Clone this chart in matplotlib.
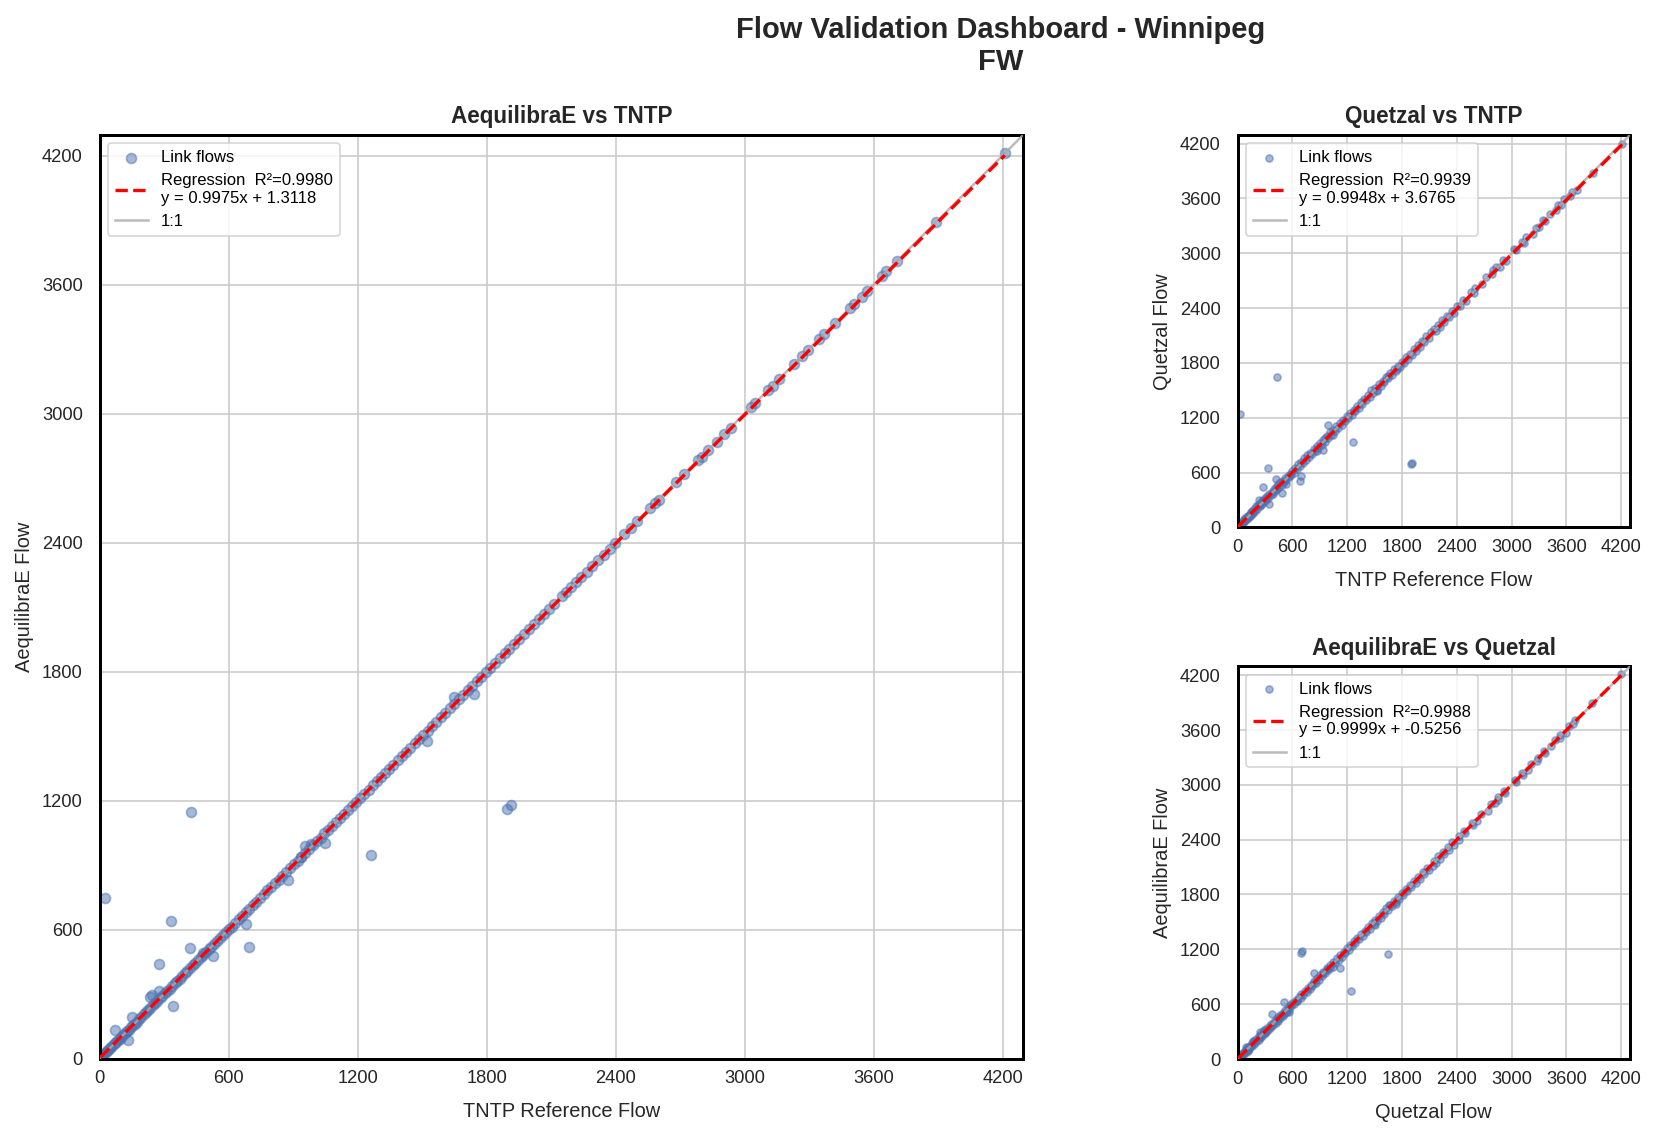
import matplotlib
matplotlib.use("Agg")
import matplotlib.pyplot as plt
from matplotlib.ticker import MultipleLocator
import numpy as np

plt.rcParams['font.family'] = ['Liberation Sans', 'DejaVu Sans']

# link flows (same links in all three panels)
tntp = [5, 12, 18, 25, 33, 40, 48, 55, 62, 70,
        78, 85, 93, 100, 110, 118, 127, 135, 146, 155,
        163, 172, 184, 193, 205, 214, 226, 237, 248, 259,
        268, 280, 291, 303, 315, 326, 338, 349, 361, 372,
        385, 396, 408, 420, 433, 445, 457, 470, 482, 495,
        508, 520, 533, 547, 560, 574, 588, 600, 615, 632,
        648, 664, 681, 697, 713, 730, 748, 765, 781, 798,
        815, 833, 850, 868, 885, 903, 921, 938, 956, 974,
        992, 1010, 1028, 1046, 1064, 1083, 1101, 1120, 1138, 1157,
        1175, 1194, 1213, 1232, 1251, 1270, 1290, 1309, 1328, 1348,
        1367, 1387, 1406, 1426, 1446, 1466, 1486, 1506, 1526, 1546,
        1567, 1587, 1608, 1628, 1649, 1670, 1691, 1712, 1733, 1754,
        1775, 1797, 1818, 1840, 1862, 1884, 1906, 1929, 1951, 1974,
        1997, 2020, 2043, 2067, 2090, 2114, 2150, 2168, 2192, 2215,
        2240, 2265, 2290, 2318, 2345, 2372, 2398, 2440, 2470, 2498,
        2560, 2585, 2600, 2680, 2720, 2785, 2800, 2830, 2870, 2905,
        2935, 3030, 3050, 3110, 3130, 3160, 3230, 3265, 3295, 3345,
        3370, 3420, 3490, 3510, 3545, 3570, 3640, 3660, 3710, 3890,
        4210,
        27, 427, 1263, 1894, 1913, 334, 275, 422, 697, 683,
        529, 875, 956, 1049, 343, 277, 235, 243, 150, 74,
        133, 1649, 1743, 1525, 483, 985, 938]

aeq = [6, 12, 19, 24, 33, 41, 47, 55, 63, 70,
       77, 86, 93, 101, 109, 118, 128, 134, 146, 156,
       162, 172, 185, 192, 205, 215, 225, 237, 249, 258,
       268, 281, 290, 303, 316, 325, 338, 350, 360, 372,
       384, 397, 408, 419, 433, 446, 456, 470, 483, 494,
       508, 519, 534, 546, 560, 575, 587, 601, 614, 632,
       647, 665, 680, 697, 714, 729, 748, 764, 782, 797,
       815, 832, 851, 867, 885, 904, 920, 938, 955, 974,
       991, 1010, 1027, 1047, 1063, 1083, 1100, 1121, 1137, 1157,
       1174, 1195, 1212, 1232, 1250, 1271, 1289, 1309, 1327, 1348,
       1366, 1388, 1405, 1426, 1445, 1467, 1485, 1506, 1525, 1547,
       1566, 1587, 1607, 1629, 1648, 1670, 1690, 1713, 1732, 1754,
       1774, 1797, 1817, 1841, 1861, 1884, 1905, 1930, 1950, 1974,
       1996, 2021, 2042, 2067, 2089, 2115, 2149, 2168, 2191, 2216,
       2239, 2265, 2289, 2319, 2344, 2372, 2397, 2441, 2469, 2498,
       2559, 2586, 2599, 2681, 2719, 2786, 2799, 2830, 2869, 2906,
       2934, 3031, 3049, 3110, 3129, 3161, 3229, 3266, 3294, 3345,
       3369, 3421, 3489, 3511, 3544, 3571, 3639, 3661, 3709, 3891,
       4211,
       746, 1145, 945, 1161, 1179, 638, 440, 512, 517, 624,
       475, 829, 988, 1001, 244, 314, 287, 295, 192, 133,
       84, 1683, 1694, 1477, 490, 1000, 938]

qtz = [8, 20, 15, 35, 28, 52, 40, 70, 58, 62,
       90, 78, 110, 95, 125, 105, 140, 120, 160, 150,
       175, 160, 200, 185, 230, 205, 240, 250, 235, 275,
       255, 300, 280, 318, 300, 340, 325, 365, 350, 392,
       370, 420, 400, 440, 425, 470, 445, 495, 465, 510,
       495, 545, 520, 565, 548, 590, 575, 620, 600, 650,
       635, 690, 670, 715, 700, 755, 735, 790, 770, 815,
       800, 860, 835, 890, 870, 925, 905, 960, 940, 995,
       975, 1040, 1015, 1070, 1050, 1110, 1085, 1145, 1120, 1180,
       1160, 1215, 1195, 1255, 1235, 1290, 1270, 1330, 1310, 1370,
       1350, 1410, 1390, 1450, 1425, 1500, 1470, 1530, 1505, 1570,
       1545, 1605, 1590, 1650, 1630, 1690, 1670, 1730, 1715, 1770,
       1755, 1815, 1800, 1860, 1845, 1900, 1885, 1950, 1930, 1995,
       1975, 2040, 2025, 2090, 2070, 2135, 2170, 2150, 2215, 2195,
       2265, 2245, 2310, 2300, 2365, 2350, 2420, 2425, 2490, 2480,
       2580, 2570, 2620, 2665, 2740, 2770, 2815, 2850, 2855, 2925,
       2920, 3045, 3040, 3125, 3115, 3175, 3215, 3280, 3285, 3360,
       3355, 3435, 3475, 3525, 3530, 3590, 3625, 3675, 3690, 3880,
       4200,
       1240, 1644, 940, 690, 702, 651, 443, 530, 560, 512,
       480, 840, 975, 1010, 260, 290, 300, 250, 170, 90,
       120, 1660, 1730, 1490, 381, 1122, 842]

# regression results as printed in the legends: (slope, intercept, r2)
fits = {
    'aeq_tntp': (0.9975, 1.3118, 0.9980),
    'qtz_tntp': (0.9948, 3.6765, 0.9939),
    'aeq_qtz': (0.9999, -0.5256, 0.9988),
}

tntp = np.array(tntp, dtype=float)
aeq = np.array(aeq, dtype=float)
qtz = np.array(qtz, dtype=float)
lim = max(tntp.max(), aeq.max(), qtz.max()) * 1.02

fig = plt.figure(figsize=(13.8, 9.467), dpi=120)
ax1 = fig.add_axes([0.0601, 0.0682, 0.5577, 0.8129])
ax2 = fig.add_axes([0.7473, 0.5357, 0.2370, 0.3455])
ax3 = fig.add_axes([0.7473, 0.0678, 0.2370, 0.3455])


def panel(ax, x, y, fit, title, xlabel, ylabel, size):
    m, b, r2 = fit
    ax.set_axisbelow(True)
    ax.grid(True, color='#cccccc', linewidth=1.0)
    ax.scatter(x, y, s=size, color='#4C72B0', alpha=0.5, label='Link flows', zorder=2)
    xx = np.linspace(x.min(), x.max(), 100)
    ax.plot(xx, m * xx + b, color='red', linestyle='--', linewidth=2,
            label='Regression  R\u00b2=%.4f\ny = %.4fx + %.4f' % (r2, m, b), zorder=4)
    ax.plot([0, lim], [0, lim], color='#aaaaaa', linewidth=1.5, alpha=0.8, label='1:1', zorder=3)
    ax.set_xlim(0, lim)
    ax.set_ylim(0, lim)
    ax.xaxis.set_major_locator(MultipleLocator(600))
    ax.yaxis.set_major_locator(MultipleLocator(600))
    ax.tick_params(length=0, labelsize=11, colors='#262626')
    ax.tick_params(axis='x', pad=7)
    ax.tick_params(axis='y', pad=10)
    for s in ax.spines.values():
        s.set_color('black')
        s.set_linewidth(1.8)
    ax.set_title(title, fontsize=13.5, fontweight='bold', color='#262626', pad=7)
    ax.set_xlabel(xlabel, fontsize=12, color='#262626', labelpad=9)
    ax.set_ylabel(ylabel, fontsize=12, color='#262626', labelpad=5)
    ax.legend(loc='upper left', fontsize=10, frameon=True, framealpha=0.8,
              edgecolor='#cccccc')


panel(ax1, tntp, aeq, fits['aeq_tntp'], 'AequilibraE vs TNTP',
      'TNTP Reference Flow', 'AequilibraE Flow', 36)
panel(ax2, tntp, qtz, fits['qtz_tntp'], 'Quetzal vs TNTP',
      'TNTP Reference Flow', 'Quetzal Flow', 18)
panel(ax3, qtz, aeq, fits['aeq_qtz'], 'AequilibraE vs Quetzal',
      'Quetzal Flow', 'AequilibraE Flow', 18)

fig.suptitle('Flow Validation Dashboard - Winnipeg\nFW', x=0.604, y=0.986,
             va='top', fontsize=17.5, fontweight='bold', color='#262626')

fig.savefig('out.png', dpi=120)
